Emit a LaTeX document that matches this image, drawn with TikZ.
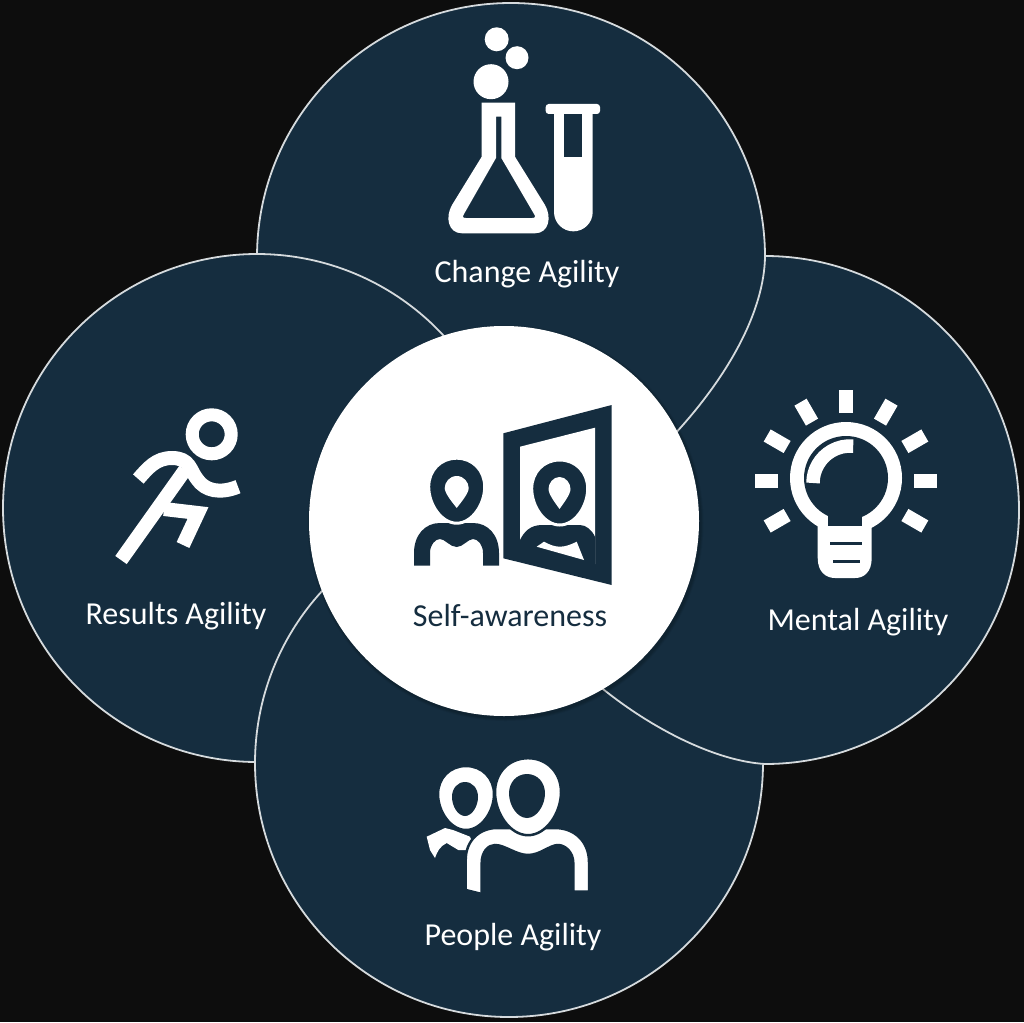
\documentclass[tikz,border=0pt]{standalone}
\usepackage{fontspec}
\setmainfont{Carlito}
\definecolor{bgc}{HTML}{0D0D0D}
\definecolor{navy}{HTML}{152D3F}
\definecolor{rim}{HTML}{D5DADD}
\newcommand{\pearpath}{(0,-1) .. controls (.58,-1) and (1,-.62) .. (1,-.12) .. controls (1,.42) and (.55,1) .. (0,1) .. controls (-.55,1) and (-1,.42) .. (-1,-.12) .. controls (-1,-.62) and (-.58,-1) .. (0,-1) -- cycle}
\newcommand{\droppath}{(0,-1) .. controls (.6,-1) and (1,-.6) .. (1,-.25) .. controls (1,.1) and (.3,.7) .. (0,1) .. controls (-.3,.7) and (-1,.1) .. (-1,-.25) .. controls (-1,-.6) and (-.6,-1) .. (0,-1) -- cycle}
\tikzset{
  petal/.style={circle,fill=navy,minimum size=508pt,inner sep=0pt,outer sep=0pt},
  hub/.style={circle,fill=white,minimum size=390pt,inner sep=0pt,outer sep=0pt},
  rimline/.style={draw=rim,line width=1.8pt},
  lbl/.style={text=white,inner sep=0pt,font=\fontsize{32}{36}\selectfont},
  limb/.style={draw=white,line width=14pt,line join=miter,line cap=butt},
  ray/.style={draw=white,line width=14pt,line cap=butt}
}
\begin{document}
\begin{tikzpicture}[x=1pt,y=1pt,yscale=-1]
\fill[bgc] (0,0) rectangle (1024,1022);
\useasboundingbox (0,0) rectangle (1024,1022);
\node[petal] (ptop) at (511,257) {};
\node[petal] (pleft) at (257,508) {};
\node[petal] (pright) at (765,510) {};
\node[petal] (pbottom) at (509,763) {};
\draw[rimline] (ptop) ++(180.7:254) arc[start angle=180.7,end angle=360,radius=254pt] .. controls (764,310) and (730,375) .. (672,437);
\draw[rimline] (pleft) ++(90.5:254) arc[start angle=90.5,end angle=322,radius=254pt];
\draw[rimline] (pright.north) arc[start angle=270,end angle=450,radius=254pt] .. controls (715,761) and (650,728) .. (598,685);
\draw[rimline] (pbottom) ++(0.3:254) arc[start angle=0.3,end angle=230,radius=254pt];
\foreach \r/\o in {198/.05,197/.07,196/.08}
  \fill[black,opacity=\o] (505.5,523) circle[radius=\r];
\node[hub] (phub) at (504,521) {};
% flask and tube
\fill[white] (496.7,39.3) circle[radius=12] (517,57.7) circle[radius=11.5] (491,81.7) circle[radius=17.5];
\fill[white,even odd rule] (481.7,102.7) -- (515,102.7) -- (515,156.7) -- (545,205) .. controls (552,217) and (549,233.3) .. (535,233.3) -- (462,233.3) .. controls (448,233.3) and (445,217) .. (452,205) -- (481.7,156.7) -- cycle
 (496,116.7) -- (501.3,116.7) -- (501.3,158) -- (534,214) .. controls (536,217) and (535,218) .. (532,218) -- (466,218) .. controls (463,218) and (462,217) .. (464,214) -- (496,158) -- cycle;
\fill[white,rounded corners=3pt] (545.7,104) rectangle (600,114);
\fill[white] (554,110) -- (592.7,110) -- (592.7,212) arc[start angle=0,end angle=180,radius=19.35] -- cycle;
\fill[navy] (564,114) rectangle (582,156.7);
% person and mirror
\fill[navy] (414,565.7) -- (414,553) .. controls (414,535) and (425,523) .. (440,523) -- (473,523) .. controls (488,523) and (499,535) .. (499,553) -- (499,565.7) -- (483,565.7) -- (483,553) .. controls (483,545) and (478,539) .. (473,539) .. controls (468,539) and (463,547) .. (456.7,547) .. controls (450,547) and (445,539) .. (440,539) .. controls (435,539) and (430,545) .. (430,553) -- (430,565.7) -- cycle;
\begin{scope}[shift={(456.7,490.7)},xscale=28,yscale=32.5]
\filldraw[fill=navy,draw=white,line width=3pt] \pearpath;
\end{scope}
\begin{scope}[shift={(456.7,492)},xscale=12,yscale=16]
\fill[white] \droppath;
\end{scope}
\fill[navy] (503.3,433.3) -- (611.7,405) -- (611.7,585) -- (503.3,558.3) -- cycle;
\fill[white] (520,446.7) -- (595,427.7) -- (595,564) -- (520,545) -- cycle;
\fill[navy] (520,540) .. controls (524,532) and (530,525) .. (542,525) -- (580,525) .. controls (586,525) and (592,530) .. (595,537) -- (595,566) -- (520,548) -- cycle;
\fill[white] (536.7,546.7) -- (544,541.7) .. controls (550,545) and (555,546.7) .. (560,546.7) .. controls (566,546.7) and (572,544) .. (576.7,541.7) -- (584,560) -- cycle;
\begin{scope}[shift={(559.7,492.5)},xscale=28,yscale=32.5]
\filldraw[fill=navy,draw=white,line width=3pt] \pearpath;
\end{scope}
\begin{scope}[shift={(559.5,493)},xscale=11,yscale=16]
\fill[white] \droppath;
\end{scope}
% light bulb
\foreach \a in {150,180,210,240,270,300,330,360,390}
  \draw[ray] (846,481) ++(\a:68) -- ++(\a:23);
\fill[white] (846,478) circle[radius=56];
\fill[white] (817.7,515) -- (817.7,558) .. controls (817.7,572) and (826,578) .. (835,578) -- (855,578) .. controls (864,578) and (871.7,572) .. (871.7,558) -- (871.7,515) -- cycle;
\fill[navy] (846,478) circle[radius=42];
\fill[navy] (828,510) rectangle (862.3,525.7);
\draw[navy,line width=3pt] (830,543) -- (862,543) (833,561) -- (860,561);
\draw[white,line width=13.5pt] (813,483) arc[start angle=180,end angle=275,radius=37];
% runner
\draw[white,line width=13pt] (211.7,434.3) circle[radius=19.5];
\draw[limb] (121,560) -- (185,470);
\draw[limb] (138.3,479) .. controls (148,468) and (156,458) .. (172,458) .. controls (190,458) and (190,470) .. (197,479) .. controls (205,491) and (220,494) .. (238,486.7);
\draw[limb] (164,509) -- (198,513) -- (183,545);
% people
\fill[white] (426.7,836.7) -- (445,828) -- (453,830) -- (470,836.7) -- (475,850) -- (458.3,850) -- (446.7,843) .. controls (440,846) and (437,852) .. (435,858) -- (430,850) -- cycle;
\filldraw[fill=white,draw=navy,line width=2.5pt] (465.7,890) -- (465.7,860) .. controls (465.7,840) and (480,828) .. (497,828) -- (555,828) .. controls (575,828) and (589,842) .. (589,862) -- (589,891.7) -- (573.3,891.7) -- (573.3,863) .. controls (573.3,852) and (565,845) .. (558,845) .. controls (550,845) and (540,855) .. (528,855) .. controls (516,855) and (505,845) .. (495,845) .. controls (488,845) and (481.7,852) .. (481.7,863) -- (481.7,894) -- cycle;
\begin{scope}[shift={(466,798)},xscale=28,yscale=32]
\filldraw[fill=white,draw=navy,line width=2.5pt] \pearpath;
\end{scope}
\begin{scope}[shift={(465,799)},xscale=13,yscale=17]
\fill[navy] \pearpath;
\end{scope}
\begin{scope}[shift={(528,796.7)},xscale=33,yscale=38.5]
\filldraw[fill=white,draw=navy,line width=2.5pt] \pearpath;
\end{scope}
\begin{scope}[shift={(527,796)},xscale=18,yscale=22]
\fill[navy] \pearpath;
\end{scope}
% labels
\node[lbl] (tchange) at (527,274) {Change Agility};
\node[lbl] (tresults) at (176,616) {Results Agility};
\node[lbl] (tmental) at (858,622) {Mental Agility};
\node[lbl] (tpeople) at (513,937) {People Agility};
\node[lbl,text=navy] (tself) at (510,615) {Self-awareness};
\end{tikzpicture}
\end{document}
